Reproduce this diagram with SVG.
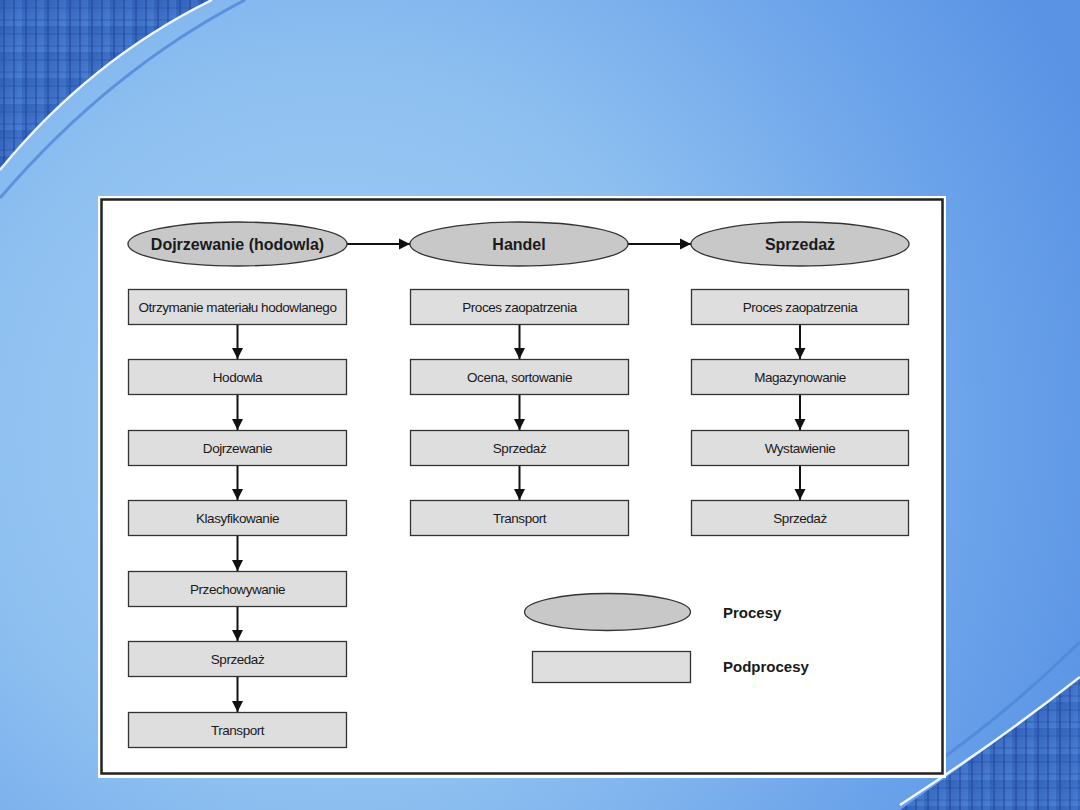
<svg xmlns="http://www.w3.org/2000/svg" width="1080" height="810" viewBox="0 0 1080 810">
<defs>
<radialGradient id="bg" cx="330" cy="430" r="820" gradientUnits="userSpaceOnUse">
<stop offset="0" stop-color="#a3d0f5"/>
<stop offset="0.45" stop-color="#8dbff0"/>
<stop offset="0.8" stop-color="#6aa2ea"/>
<stop offset="1" stop-color="#5a93e4"/>
</radialGradient>
<linearGradient id="dark" x1="0" y1="0" x2="1" y2="1">
<stop offset="0" stop-color="#2f5fb8"/>
<stop offset="1" stop-color="#4a80d2"/>
</linearGradient>
<pattern id="grid" width="22" height="26" patternUnits="userSpaceOnUse">
<rect width="22" height="26" fill="url(#dark)"/>
<path d="M4 0V26M14 0V26" stroke="#1f3f96" stroke-opacity="0.45" stroke-width="2"/>
<path d="M0 8H22M0 20H22" stroke="#1f3f96" stroke-opacity="0.3" stroke-width="1.5"/>
</pattern>
<marker id="ah" markerWidth="12" markerHeight="12" refX="11" refY="6" orient="auto" markerUnits="userSpaceOnUse">
<path d="M0 0.5L11 6L0 11.5Z" fill="#111"/>
</marker>
<style>
.proc{fill:#c8c8c8;stroke:#333;stroke-width:1.3}
.sub{fill:#dedede;stroke:#333;stroke-width:1.3}
.pt{font-family:"Liberation Sans",Arial,sans-serif;font-weight:bold;font-size:16px;fill:#1a1a1a;text-anchor:middle}
.st{font-family:"Liberation Sans Narrow","Liberation Sans",Arial,sans-serif;font-size:13.5px;fill:#1a1a1a;text-anchor:middle;letter-spacing:-0.45px}
.lt{font-family:"Liberation Sans",Arial,sans-serif;font-weight:bold;font-size:15px;fill:#1a1a1a}
.c{stroke:#111;stroke-width:2;fill:none;marker-end:url(#ah)}
</style>
</defs>
<rect width="1080" height="810" fill="url(#bg)"/>
<path d="M0 0H212Q90 60 0 170Z" fill="url(#grid)"/>
<path d="M212 0Q90 60 0 170" stroke="#eef6ff" stroke-width="2.5" fill="none"/>
<path d="M245 0Q110 70 0 198" stroke="#4f87d8" stroke-width="3" fill="none" opacity="0.8"/>
<path d="M1080 810H900Q1000 740 1080 677Z" fill="url(#grid)"/>
<path d="M900 805Q1000 740 1080 677" stroke="#eef6ff" stroke-width="2.5" fill="none"/>
<path d="M940 760Q1010 710 1080 642" stroke="#4f87d8" stroke-width="3" fill="none" opacity="0.8"/>
<rect x="98" y="196" width="848" height="582" fill="#fff"/>
<rect x="101.5" y="199.5" width="841" height="574" fill="#fff" stroke="#222" stroke-width="2.5"/>

<g id="connectors">
<path class="c" d="M347 244H410"/>
<path class="c" d="M628 244H691"/>
<path class="c" d="M237.5 324V359"/>
<path class="c" d="M237.5 394V430"/>
<path class="c" d="M237.5 465V500"/>
<path class="c" d="M237.5 535V571"/>
<path class="c" d="M237.5 606V641"/>
<path class="c" d="M237.5 677V712"/>
<path class="c" d="M519.5 324V359"/>
<path class="c" d="M519.5 394V430"/>
<path class="c" d="M519.5 465V500"/>
<path class="c" d="M800 324V359"/>
<path class="c" d="M800 394V430"/>
<path class="c" d="M800 465V500"/>
</g>

<g id="p1"><ellipse class="proc" cx="237.5" cy="244" rx="109.5" ry="22"/><text class="pt" x="237.5" y="249.5">Dojrzewanie (hodowla)</text></g>
<g id="p2"><ellipse class="proc" cx="519" cy="244" rx="109" ry="22"/><text class="pt" x="519" y="249.5">Handel</text></g>
<g id="p3"><ellipse class="proc" cx="800" cy="244" rx="109" ry="22"/><text class="pt" x="800" y="249.5">Sprzedaż</text></g>

<g id="a1"><rect class="sub" x="128.5" y="289.5" width="218" height="35"/><text class="st" x="237.5" y="312">Otrzymanie materiału hodowlanego</text></g>
<g id="a2"><rect class="sub" x="128.5" y="359.5" width="218" height="35"/><text class="st" x="237.5" y="382">Hodowla</text></g>
<g id="a3"><rect class="sub" x="128.5" y="430.5" width="218" height="35"/><text class="st" x="237.5" y="453">Dojrzewanie</text></g>
<g id="a4"><rect class="sub" x="128.5" y="500.5" width="218" height="35"/><text class="st" x="237.5" y="523">Klasyfikowanie</text></g>
<g id="a5"><rect class="sub" x="128.5" y="571.5" width="218" height="35"/><text class="st" x="237.5" y="594">Przechowywanie</text></g>
<g id="a6"><rect class="sub" x="128.5" y="641.5" width="218" height="35"/><text class="st" x="237.5" y="664">Sprzedaż</text></g>
<g id="a7"><rect class="sub" x="128.5" y="712.5" width="218" height="35"/><text class="st" x="237.5" y="735">Transport</text></g>

<g id="b1"><rect class="sub" x="410.5" y="289.5" width="218" height="35"/><text class="st" x="519.5" y="312">Proces zaopatrzenia</text></g>
<g id="b2"><rect class="sub" x="410.5" y="359.5" width="218" height="35"/><text class="st" x="519.5" y="382">Ocena, sortowanie</text></g>
<g id="b3"><rect class="sub" x="410.5" y="430.5" width="218" height="35"/><text class="st" x="519.5" y="453">Sprzedaż</text></g>
<g id="b4"><rect class="sub" x="410.5" y="500.5" width="218" height="35"/><text class="st" x="519.5" y="523">Transport</text></g>

<g id="c1"><rect class="sub" x="691.5" y="289.5" width="217" height="35"/><text class="st" x="800" y="312">Proces zaopatrzenia</text></g>
<g id="c2"><rect class="sub" x="691.5" y="359.5" width="217" height="35"/><text class="st" x="800" y="382">Magazynowanie</text></g>
<g id="c3"><rect class="sub" x="691.5" y="430.5" width="217" height="35"/><text class="st" x="800" y="453">Wystawienie</text></g>
<g id="c4"><rect class="sub" x="691.5" y="500.5" width="217" height="35"/><text class="st" x="800" y="523">Sprzedaż</text></g>

<g id="legend-proc"><ellipse class="proc" cx="607.5" cy="612" rx="83" ry="18.5"/><text class="lt" x="723" y="618">Procesy</text></g>
<g id="legend-sub"><rect class="sub" x="532.5" y="651.5" width="158" height="31"/><text class="lt" x="723" y="672">Podprocesy</text></g>
</svg>
